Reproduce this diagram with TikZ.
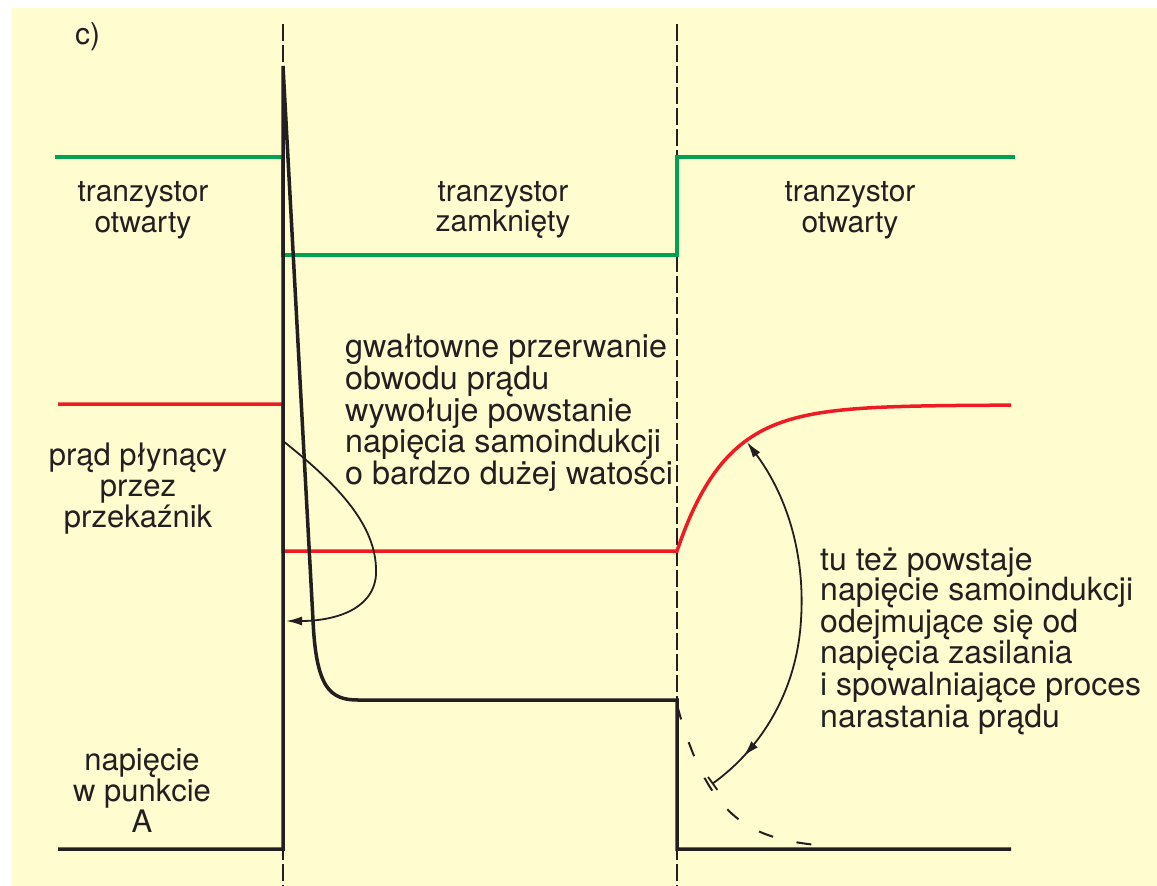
\documentclass[tikz,border=0pt]{standalone}
\usepackage{fontspec}
\setmainfont{TeX Gyre Heros}
\usetikzlibrary{arrows.meta, decorations.markings}

\definecolor{tlo}{RGB}{255,252,207}
\definecolor{zielony}{RGB}{0,161,80}
\definecolor{czerwony}{RGB}{237,28,36}
\definecolor{czarny}{RGB}{35,31,32}

\begin{document}
\begin{tikzpicture}[x=1pt, y=-1pt, >={Latex[length=16pt, width=9pt]},
  opis/.style={font=\fontsize{30}{30.5}\selectfont, text=czarny, inner sep=0pt},
  tekst/.style={opis, font=\fontsize{32}{30.5}\selectfont, align=left, anchor=west},
  przebieg/.style={line width=3.5pt},
  granica/.style={czarny, line width=2.8pt, dash pattern=on 17pt off 4pt},
  strzalka/.style={czarny, line width=1.8pt}]

  % Tlo
  \useasboundingbox (0,0) rectangle (1157,886);
  \fill[tlo] (12,8) rectangle (1157,886);

  % Linie przerywane
  \draw[granica] (283,24) -- (283,886);
  \draw[granica] (677,24) -- (677,886);

  % Stan tranzystora
  \draw[przebieg, zielony] (55,157) -- (283,157) -- (283,255) -- (677,255) -- (677,157) -- (1015,157);

  % Prad przekaznika
  \draw[przebieg, czerwony] (58,404) -- (283,404) -- (283,551) -- (677,551)
    -- plot[domain=677:1011, samples=80] (\x, {405+146*exp(-(\x-677)/49)});

  % Napiecie w punkcie A
  \draw[przebieg, czarny] (58,849) -- (283,849) -- (283,66) -- (313,620)
    .. controls (316,688) and (330,700) .. (358,700) -- (677,700) -- (677,849) -- (1011,849);
  \draw[czarny, line width=2pt, dash pattern=on 15pt off 24pt]
    plot[domain=677:830, samples=40] (\x, {849-144*exp(-(\x-677)/39)});

  % Strzalki
  \coordinate (pocz) at (283,441);
  \coordinate (kon) at (286,621);
  \draw[strzalka, ->] (pocz) .. controls (345,490) and (378,530) .. (376,575)
    .. controls (373,612) and (330,621) .. (kon);

  \coordinate (gora) at (747,442);
  \coordinate (dol) at (712,784);
  \draw[strzalka, <-{Bar[width=16pt]}, postaction={decorate},
    decoration={markings, mark=at position 0.89 with {\arrow{>}}}]
    (gora) .. controls (790,500) and (805,560) .. (801,620)
    .. controls (797,690) and (762,748) .. (dol);

  % Opisy
  \node[opis, anchor=west] (litera) at (75,37) {c)};
  \node[opis, align=center] (otwarty) at (143,210) {tranzystor\\otwarty};
  \node[opis, align=center] (zamkniety) at (503,210) {tranzystor\\zamknięty};
  \node[opis, align=center] (otwartyb) at (850,210) {tranzystor\\otwarty};
  \node[opis, align=center, font=\fontsize{31}{31}\selectfont] (prad) at (138,489) {prąd płynący\\przez\\przekaźnik};
  \node[opis, align=center, font=\fontsize{31}{31}\selectfont] (napiecie) at (142,791) {napięcie\\w punkcie\\A};
  \node[tekst, font=\fontsize{32.3}{30}\selectfont] (przerwanie) at (345,413)
    {gwałtowne przerwanie\\obwodu prądu\\wywołuje powstanie\\napięcia samoindukcji\\o bardzo dużej watości};
  \node[tekst] (narastanie) at (820,641)
    {tu też powstaje\\napięcie samoindukcji\\odejmujące się od\\napięcia zasilania\\i spowalniające proces\\narastania prądu};
\end{tikzpicture}
\end{document}
